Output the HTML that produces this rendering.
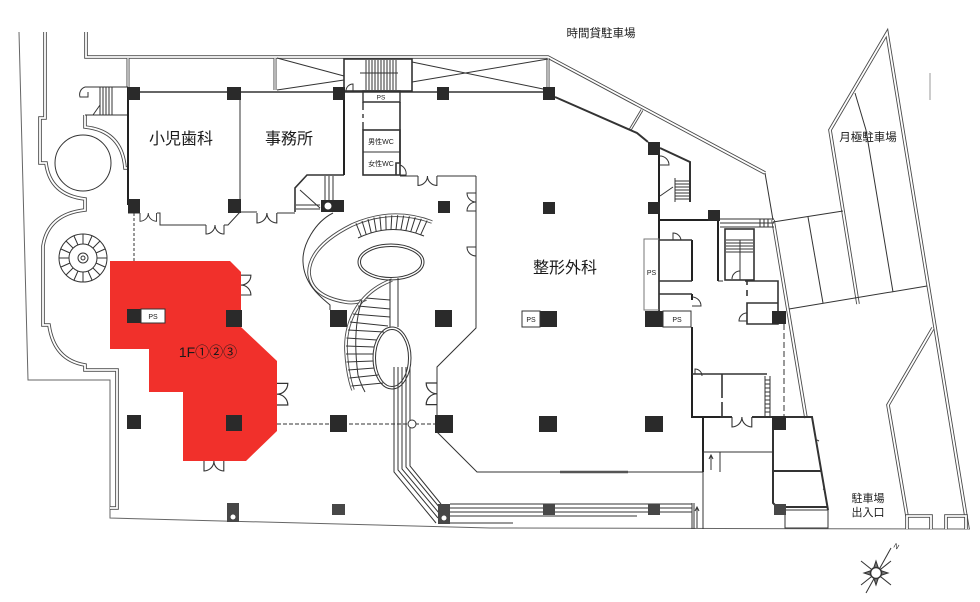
<!DOCTYPE html>
<html><head><meta charset="utf-8">
<style>
html,body{margin:0;padding:0;background:#fff;}
svg{display:block}
text{font-family:"Liberation Sans","Noto Sans CJK JP",sans-serif;fill:#1a1a1a}
.dO{fill:none;stroke:#4a4a4a;stroke-width:3.6}
.dI{fill:none;stroke:#fff;stroke-width:1.8}
.sO{fill:none;stroke:#4a4a4a;stroke-width:3}
.sI{fill:none;stroke:#fff;stroke-width:1.2}
.t{fill:none;stroke:#333;stroke-width:1}
.tk{fill:none;stroke:#222;stroke-width:2}
.g{fill:none;stroke:#666;stroke-width:1}
.col{fill:#2a2a2a}
.colg{fill:#474747}
</style></head><body>
<svg width="980" height="602" viewBox="0 0 980 602" xmlns="http://www.w3.org/2000/svg">
<defs>
<path id="pLeft" d="M45,32 V118 H40 V163 H46 Q50,195 85,199 V210 Q48,214 43,246 V325 H49 Q54,360 85,365 V370 H117 V508 H110"/>
<path id="pTop" d="M86,32 V57 H548 L765,173"/>
<path id="pArcR" d="M85,115 V127 Q122,131 125,168 H128"/>
<path id="pRS" d="M773,220 L806,418"/>
<path id="pPk1" d="M858,304 L830,130 L887,33 L968,529"/>
<path id="pPk2" d="M933,328 L888,405 L907,516"/>
<path id="pBx" d="M907,529 V516 H931 V529 M946,529 V516 H966 V529"/>
<path id="pC" d="M432,222 Q392,207 352,225 Q310,246 309,272 Q310,296 345,302 Q356,304 366,299"/>
<path id="pLo" d="M392,280 C360,292 345,320 346,350 C347,370 350,382 353,390"/>
<path id="pBar" d="M630,130 L642,110"/>
<path id="pTv" d="M128,58 V87 M275,58 V90 M548,58 V87"/>
<path id="dd" d="M0,0 v9 A9,9 0 0 0 9,0 M18,0 v9 A9,9 0 0 1 9,0"/>
<path id="sd" d="M0,0 v9 A9,9 0 0 0 9,0"/>
</defs>

<!-- red tenant area -->
<polygon points="110,261 230,261 241,272 241,327 277,361 277,431 246,461 183,461 183,392 149,392 149,349 110,349" fill="#f1302b"/>

<!-- site outline -->
<path class="g" d="M19,32 L28,380 L110,380 L110,518 L490,528 L970,529"/>

<!-- double walls -->
<use href="#pLeft" class="dO"/><use href="#pLeft" class="dI"/>
<use href="#pTop" class="dO"/><use href="#pTop" class="dI"/>
<use href="#pArcR" class="dO"/><use href="#pArcR" class="dI"/>
<use href="#pRS" class="dO"/><use href="#pRS" class="dI"/>
<use href="#pPk1" class="dO"/><use href="#pPk1" class="dI"/>
<use href="#pPk2" class="dO"/><use href="#pPk2" class="dI"/>
<use href="#pBx" class="dO"/><use href="#pBx" class="dI"/>
<use href="#pC" class="dO"/><use href="#pC" class="dI"/>
<use href="#pLo" class="dO"/><use href="#pLo" class="dI"/>
<use href="#pBar" class="sO"/><use href="#pBar" class="sI"/>
<use href="#pTv" class="sO"/><use href="#pTv" class="sI"/>

<!-- parking single lines -->
<g class="t">
<path d="M765,173 L773,220"/>
<path d="M773,222 L843,211"/>
<path d="M789,309 L927,286"/>
<path d="M808,217 L823,303"/>
<path d="M855,93 L866,130 L893,292"/>
<path d="M930,73 V100" stroke="#999"/>
</g>

<!-- left structures -->
<g class="t">
<circle cx="83" cy="163" r="28"/>
<circle cx="83" cy="258" r="24"/>
<circle cx="83" cy="258" r="14"/>
<circle cx="83" cy="258" r="5"/>
<circle cx="83" cy="258" r="2"/>
<path d="M83,234 V244 M83,272 V282 M59,258 H69 M97,258 H107 M66,241 L73,248 M93,268 L100,275 M100,241 L93,248 M66,275 L73,268 M74,236 L78,245 M92,280 L88,271 M61,249 L70,253 M105,267 L96,263 M61,267 L70,263 M105,249 L96,253 M92,236 L88,245 M74,280 L78,271"/>
<path d="M85,87 H128 M85,115 H128 M100,87 V115 M103,87 V115 M106,87 V115 M109,87 V115 M112,87 V115 M93,115 L100,105"/>
<path d="M85,87 A8,8 0 0 0 80,97 H88 V92"/>
<path d="M134,213 V261" stroke-dasharray="3,2"/>
</g>
<path class="tk" d="M128,87 V205" stroke-width="1.6"/>

<!-- top building lines -->
<g class="t">
<path d="M140,92 H227 M241,92 H333 M345,92 H437 M449,92 H543" stroke-width="1.5"/>
<path d="M277,58 L344,76 M277,90 L344,80 M412,82 L548,59 M412,62 L548,90"/>
<rect x="344" y="59" width="68" height="32" stroke-width="1.6"/>
<path d="M366,60 V90 M369,60 V90 M372,60 V90 M375,60 V90 M378,60 V90 M381,60 V90 M384,60 V90 M387,60 V90 M390,60 V90 M393,60 V90 M396,60 V90 M360,73 H398"/>
<path d="M346,91 A7,7 0 0 1 353,84 V91"/>
</g>

<!-- rooms: 小児歯科 / 事務所 -->
<g class="t">
<path d="M240,92 V210"/>
<path d="M128,213 H140 M157,213 H160 V225 H206 M224,225 H228 L240,212 H257 M277,213 H295"/>
<path d="M295,212 V188 L307,175 H344" stroke-width="1.6"/>
<path d="M325,176 V210 M329,176 V210 M333,176 V210 M296,205 H320 M296,209 H320 M300,190 L320,208"/>
</g>
<path class="tk" d="M344,92 V175"/>
<g class="t">
<path d="M363,91 H400 V102 H363 Z" stroke-width="1.4"/>
<path d="M363,102 V110 M363,114 V118 M363,122 V130" stroke-width="1.4"/>
<rect x="363" y="130" width="37" height="45" stroke-width="1.6"/>
<path d="M363,152 H400"/>
<path d="M400,102 V163 H396 V175" stroke-width="1.6"/>
<path d="M400,176 H418 M437,176 H476"/>
<path d="M400,165 A9,9 0 0 1 406,175 H400"/>
</g>
<text x="381" y="99.5" font-size="6.5" text-anchor="middle">PS</text>
<text x="381" y="144" font-size="7" text-anchor="middle">男性WC</text>
<text x="381" y="166" font-size="7" text-anchor="middle">女性WC</text>

<!-- oval staircase -->
<g class="t">
<path d="M333,213 C315,222 302,245 303,262 C304,285 322,298 330,305 V310"/>
<ellipse cx="391" cy="262" rx="33" ry="18"/>
<ellipse cx="391" cy="262" rx="30.5" ry="15.5"/>
<path d="M358,238 Q391,222 424,236"/>
<path d="M356,223.3 L361.3,236.5 M362,221 L366.2,234.5 M368,219.1 L371.2,232.8 M373.9,217.6 L376.2,231.4 M379.9,216.5 L381.1,230.5 M385.8,215.7 L386.1,229.8 M391.8,215.3 L391,229.5 M397.7,215.2 L396,229.5 M403.6,215.6 L400.9,229.9 M409.4,216.2 L405.9,230.5 M415.3,217.3 L410.8,231.5 M421.3,218.8 L415.7,233 M427.1,220.6 L420.7,234.7"/>
<ellipse cx="392" cy="358" rx="19" ry="31"/>
<ellipse cx="392" cy="358" rx="16.5" ry="28.5"/>
<path d="M390,280 V327 M398,278 V327"/>
<path d="M362,300 Q352,330 358,375 Q361,385 365,392"/>
<path d="M366,298 L390,300 M358,306 L390,309 M353,314 L390,317 M350,322 L388,326 M348,330 L384,332 M346.5,338 L377,340 M346,346 L374,347 M346,354 L373,354 M346.5,362 L373,361 M348,370 L374.5,368 M349.5,378 L378,375 M351.5,386 L383,383"/>
<path d="M394,367 V472 L436,523 M398,367 V470 L438,518 M402,367 V469 L439,513 M406,367 V467 L440,508 M410,367 V466 L441,504"/>
<path d="M450,504 H692 M450,508 H692 M450,512 H692 M450,516 H637 M450,523 H513"/>
<path d="M277,424 H435" stroke-dasharray="4,2"/>
</g>
<circle cx="412" cy="424" r="4" fill="#fff" stroke="#333"/>

<!-- 整形外科 boundary -->
<g class="t">
<path d="M476,176 V328 L437,367 V415"/>
<path d="M437,432 L477,472 H703"/>
<path d="M560,472 H628" stroke="#555" stroke-width="2.5"/>
<path d="M555,97 L637,133 L648,142" stroke-width="2"/>
</g>

<!-- right service block -->
<g class="t">
<path d="M660,148 L690,162 V202" stroke-width="2"/>
<path d="M675,178 V202 M675,181 H690 M675,184 H690 M675,187 H690 M675,190 H690 M675,193 H690 M675,196 H690 M675,199 H690 M660,196 L673,187"/>
<path d="M660,156 A9,9 0 0 1 669,165 H660"/>
</g>
<g class="tk">
<path d="M659,148 V311"/>
<path d="M660,220 H708"/>
<path d="M718,221 V281"/>
<path d="M692,240 V281 M692,294 V300 M692,327 V417 H720"/>
<path d="M703,417 V472"/>
</g>
<g class="t">
<path d="M720,219 H774 M720,223 H774 M720,227 H774" stroke-width="1"/>
<path d="M760,219 V227 M764,219 V227 M768,219 V227"/>
<rect x="725" y="229" width="29" height="51" stroke-width="1.6"/>
<path d="M726,240 H753 M726,243 H753 M726,246 H753 M726,249 H753 M726,252 H753 M740,240 V280"/>
<path d="M745,281 H778 V324 H747 V303 H778 M747,281 V285 M747,290 V296" stroke-width="1.6"/>
<path d="M747,313 A8,8 0 0 0 739,321 H747"/>
<path d="M718,281 H723 M740,271 A8,8 0 0 0 732,279"/>
<rect x="644" y="239" width="15" height="71" stroke="#777"/>
<path d="M659,240 H692 M659,281 H692 M659,294 H692" stroke-width="1.6"/>
<path d="M673,240 V233 A8,8 0 0 1 681,240"/>
<path d="M692,297 A9,9 0 0 1 701,306 H692"/>
<path d="M784,324 V417" stroke-dasharray="6,3"/>
<path d="M692,374 H767" stroke-width="1.6"/>
<path d="M695,374 V369 A7,7 0 0 1 702,376"/>
<path d="M722,374 V398 M722,402 V417" stroke-width="1.6"/>
<path d="M765,376 V416 M770,376 V416 M765,380 H770 M765,384 H770 M765,388 H770 M765,392 H770 M765,396 H770 M765,400 H770 M765,404 H770 M765,408 H770 M765,412 H770"/>
<path d="M720,417 H732 M752,417 H773" stroke-width="2"/>
<path d="M703,472 V529"/>
<path d="M703,452 H773"/>
<path d="M703,452 V472 M720,452 V472 M711,470 V456 M709,459 L711,455 L713,459"/>
<path d="M692,503 V529 M694,503 V529 M697,528 V508 M695,511 L697,507 L699,511"/>
<path d="M773,430 V503 L777,507 H828" stroke-width="2"/>
<path d="M786,417 H812 L828,510" stroke-width="2"/>
<path d="M773,471 H822" stroke-width="2"/>
<rect x="785" y="510" width="43" height="18"/>
</g>
<path class="t" d="M817,440 L819,441 M823,489 L825,490"/>

<!-- doors -->
<g class="t">
<use href="#dd" transform="translate(140,213) scale(0.92)"/>
<use href="#dd" transform="translate(206,225)"/>
<use href="#dd" transform="translate(257,213) scale(1.1)"/>
<use href="#dd" transform="translate(418,176) scale(1.05)"/>
<use href="#dd" transform="translate(476,193) rotate(90)"/>
<use href="#sd" transform="translate(476,247) rotate(90)"/>
<use href="#dd" transform="translate(241,295) rotate(-90) scale(1.1)"/>
<use href="#dd" transform="translate(277,405) rotate(-90) scale(1.2)"/>
<use href="#dd" transform="translate(204,461) scale(1.1)"/>
<use href="#dd" transform="translate(437,383) rotate(90) scale(1.2)"/>
<use href="#dd" transform="translate(732,417) scale(1.1)"/>
</g>

<!-- columns -->
<g class="col">
<rect x="128" y="87" width="12" height="13"/><rect x="227" y="87" width="14" height="13"/>
<rect x="333" y="87" width="12" height="13"/><rect x="437" y="87" width="12" height="13"/>
<rect x="543" y="87" width="12" height="13"/>
<rect x="128" y="199" width="12" height="14"/><rect x="228" y="199" width="13" height="14"/>
<rect x="321" y="200" width="23" height="12"/><rect x="438" y="201" width="12" height="12"/>
<rect x="543" y="202" width="12" height="12"/><rect x="648" y="202" width="12" height="12"/>
<rect x="648" y="142" width="12" height="13"/><rect x="708" y="210" width="12" height="11"/>
<rect x="127" y="309" width="14" height="14"/><rect x="226" y="310" width="16" height="17"/>
<rect x="330" y="310" width="17" height="17"/><rect x="435" y="310" width="17" height="17"/>
<rect x="540" y="311" width="17" height="16"/><rect x="645" y="311" width="18" height="16"/>
<rect x="772" y="311" width="14" height="13"/>
<rect x="127" y="415" width="14" height="14"/><rect x="226" y="415" width="16" height="16"/>
<rect x="330" y="415" width="17" height="17"/><rect x="435" y="415" width="18" height="18"/>
<rect x="539" y="416" width="18" height="16"/><rect x="645" y="416" width="18" height="16"/>
<rect x="772" y="416" width="14" height="14"/>
</g>
<g class="colg">
<rect x="227" y="503" width="12" height="19"/><rect x="332" y="504" width="13" height="11"/>
<rect x="438" y="504" width="12" height="20"/><rect x="543" y="504" width="12" height="11"/>
<rect x="648" y="504" width="12" height="11"/><rect x="774" y="504" width="12" height="11"/>
</g>
<circle cx="328" cy="206" r="3.5" fill="#fff"/>
<circle cx="233" cy="517" r="2.5" fill="#fff"/>
<circle cx="444" cy="518" r="2.5" fill="#fff"/>

<!-- PS boxes -->
<g fill="#fff" stroke="#333" stroke-width="1">
<rect x="141" y="309" width="24" height="14"/>
<rect x="522" y="311" width="18" height="16"/>
<rect x="663" y="311" width="28" height="16"/>
</g>
<g font-size="7" text-anchor="middle">
<text x="153" y="319">PS</text>
<text x="531" y="322">PS</text>
<text x="677" y="322">PS</text>
<text x="651.5" y="275">PS</text>
</g>

<!-- labels -->
<text x="181" y="144" font-size="16" text-anchor="middle">小児歯科</text>
<text x="289" y="144" font-size="16" text-anchor="middle">事務所</text>
<text x="565" y="273" font-size="16" text-anchor="middle">整形外科</text>
<text x="208" y="357" font-size="14" text-anchor="middle" fill="#222">1F①②③</text>
<text x="601" y="37" font-size="11.5" text-anchor="middle">時間貸駐車場</text>
<text x="868" y="141" font-size="11.5" text-anchor="middle">月極駐車場</text>
<text x="868" y="502" font-size="11" text-anchor="middle">駐車場</text>
<text x="868" y="516" font-size="11" text-anchor="middle">出入口</text>

<!-- compass -->
<g stroke="#333" stroke-width="1" fill="none">
<path d="M891,548 L866,593"/>
<polygon points="876,561 879,570 888,573 879,576 876,585 873,576 864,573 873,570" fill="#777"/>
<path d="M861,561 L891,585 M891,561 L861,585"/>
<circle cx="876" cy="573" r="5.5" fill="#fff" stroke-width="1.5"/>
</g>
<text x="893" y="547" font-size="7" transform="rotate(30 893 547)">N</text>
</svg>
</body></html>
